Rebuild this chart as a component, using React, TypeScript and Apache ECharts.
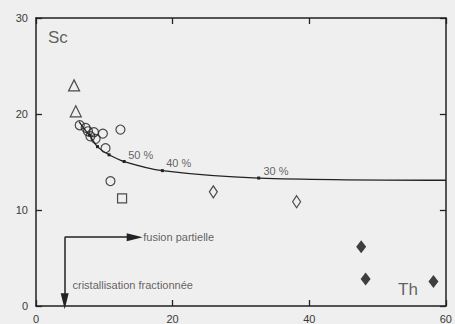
import React, { useEffect, useRef } from "react";
import * as echarts from "echarts";

// Th (x) vs Sc (y)
const triangles: [number, number][] = [
  [5.57, 22.98],
  [5.82, 20.28],
];
const circles: [number, number][] = [
  [6.4, 18.83],
  [7.27, 18.56],
  [7.61, 18.2],
  [8.48, 18.1],
  [7.96, 17.68],
  [8.73, 17.41],
  [9.79, 17.96],
  [10.18, 16.44],
  [12.36, 18.38],
  [10.9, 13.01],
];
const squares: [number, number][] = [[12.6, 11.21]];
const openDiamonds: [number, number][] = [
  [25.96, 11.89],
  [38.15, 10.87],
];
const filledDiamonds: [number, number][] = [
  [47.6, 6.16],
  [48.25, 2.8],
  [58.18, 2.56],
];
// partial melting model curve; true = tick mark on the curve
const curve: [number, number, boolean][] = [
  [6.3, 19.2, false],
  [7.0, 18.5, false],
  [7.8, 17.8, true],
  [9.0, 16.6, true],
  [10.7, 15.75, true],
  [12.9, 15.05, true],
  [18.5, 14.1, true],
  [32.6, 13.33, true],
  [60, 13.1, false],
];
const curveLabels: [number, number, string][] = [
  [13.5, 15.7, "50 %"],
  [19.05, 14.85, "40 %"],
  [33.3, 14.05, "30 %"],
];
const notes: [number, number, string][] = [
  [15.7, 7.17, "fusion partielle"],
  [5.34, 2.18, "cristallisation fractionnée"],
];
const axisNames: [number, number, string][] = [
  [1.75, 28.0, "Sc"],
  [53.0, 1.69, "Th"],
];
const arrowCorner: [number, number] = [4.2, 7.17];
const arrowRightEnd: [number, number] = [14.45, 7.17];
const arrowDownEnd: [number, number] = [4.2, 0.5];
const xTicks = { min: 0, max: 60, interval: 20 };
const yTicks = { min: 0, max: 30, interval: 10 };

const INK = "#222";
const TXT = "#3a3a3a";
const FONT = "'Liberation Sans', Arial, sans-serif";

export default function App() {
  const ref = useRef<HTMLDivElement>(null);
  useEffect(() => {
    if (!ref.current) return;
    const chart = echarts.init(ref.current, undefined, { renderer: "svg" });
    const axisLine = { show: true, onZero: false, lineStyle: { color: INK, width: 1.5 } };
    const axisTick = { show: true, inside: true, length: 6, lineStyle: { color: INK, width: 1.3 } };
    const hollow = { color: "rgba(0,0,0,0)", borderColor: INK, borderWidth: 1.2 };
    const textSeries = (data: [number, number, string][], size: number) => ({
      type: "scatter",
      data,
      symbolSize: 0,
      silent: true,
      label: {
        show: true,
        position: "right",
        distance: 0,
        formatter: (p: any) => p.data[2],
        fontSize: size,
        color: TXT,
        fontFamily: FONT,
      },
    });
    chart.setOption({
      animation: false,
      backgroundColor: "#efefef",
      grid: { left: 36, right: 7, top: 18, bottom: 17 },
      xAxis: [
        {
          type: "value",
          ...xTicks,
          position: "bottom",
          axisLine,
          axisTick,
          splitLine: { show: false },
          axisLabel: { color: TXT, fontSize: 11, fontFamily: FONT, margin: 7 },
        },
        {
          type: "value",
          ...xTicks,
          position: "top",
          axisLine,
          axisTick,
          splitLine: { show: false },
          axisLabel: { show: false },
        },
      ],
      yAxis: [
        {
          type: "value",
          ...yTicks,
          position: "left",
          axisLine,
          axisTick,
          splitLine: { show: false },
          axisLabel: { color: TXT, fontSize: 11, fontFamily: FONT, margin: 8 },
        },
        {
          type: "value",
          ...yTicks,
          position: "right",
          axisLine,
          axisTick,
          splitLine: { show: false },
          axisLabel: { show: false },
        },
      ],
      series: [
        {
          type: "line",
          data: curve.map(([x, y, m]) => ({
            value: [x, y],
            symbol: m ? "rect" : "none",
            symbolSize: 3,
          })),
          smooth: 0.3,
          showSymbol: true,
          lineStyle: { color: INK, width: 1.3 },
          itemStyle: { color: INK },
          silent: true,
          markLine: {
            silent: true,
            symbol: ["none", "triangle"],
            symbolSize: [8, 16],
            lineStyle: { color: INK, width: 1.5, type: "solid" },
            itemStyle: { color: INK },
            label: { show: false },
            data: [
              [{ coord: arrowCorner }, { coord: arrowRightEnd, symbolRotate: -90 }],
              [{ coord: arrowCorner }, { coord: arrowDownEnd, symbolRotate: 180 }],
            ],
          },
        },
        { type: "scatter", data: triangles, symbol: "triangle", symbolSize: 11, itemStyle: hollow },
        { type: "scatter", data: circles, symbol: "circle", symbolSize: 9, itemStyle: hollow },
        { type: "scatter", data: squares, symbol: "rect", symbolSize: 9, itemStyle: hollow },
        { type: "scatter", data: openDiamonds, symbol: "diamond", symbolSize: [8, 12], itemStyle: hollow },
        { type: "scatter", data: filledDiamonds, symbol: "diamond", symbolSize: [10, 13], itemStyle: { color: "#111" } },
        textSeries(curveLabels, 11),
        textSeries(notes, 11),
        textSeries(axisNames, 17),
      ],
    });
    return () => chart.dispose();
  }, []);
  return (
    <div
      ref={ref}
      style={{ position: "fixed", left: 0, top: 0, width: 455, height: 324 }}
    />
  );
}
